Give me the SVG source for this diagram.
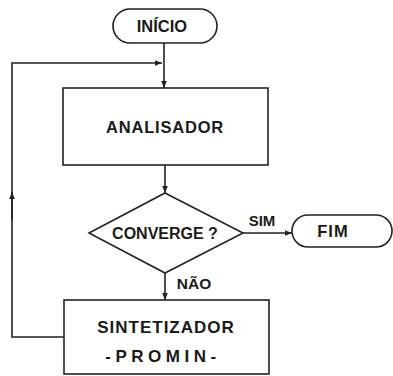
<svg xmlns="http://www.w3.org/2000/svg" width="393" height="376" viewBox="0 0 393 376">
<defs>
<marker id="ah" viewBox="0 0 10 10" refX="10" refY="5" markerWidth="7" markerHeight="7" orient="auto" markerUnits="userSpaceOnUse">
<path d="M0,1 L10,5 L0,9 Z" fill="#222"/>
</marker>
</defs>
<style>
.s{fill:#fff;stroke:#222;stroke-width:1.6}
.c{fill:none;stroke:#222;stroke-width:1.6}
.t{font-family:"Liberation Sans",Arial,sans-serif;font-weight:bold;fill:#1a1a1a;text-anchor:middle}
</style>
<rect width="393" height="376" fill="#fff"/>
<g id="connectors">
<path class="c" d="M164,43 V88" marker-end="url(#ah)"/>
<path class="c" d="M64,337 H12 V63 H162" marker-end="url(#ah)"/>
<path class="c" d="M12,220 V192" marker-end="url(#ah)"/>
<path class="c" d="M165,165 V193" marker-end="url(#ah)"/>
<path class="c" d="M243,233 H292" marker-end="url(#ah)"/>
<path class="c" d="M165,273 V300" marker-end="url(#ah)"/>
<text class="t" x="262" y="226" font-size="15">SIM</text>
<text class="t" x="194" y="289" font-size="15.5">NÃO</text>
</g>
<g id="inicio">
<rect class="s" x="113" y="9" width="104" height="34" rx="17"/>
<text class="t" x="162" y="32" font-size="16.5">INÍCIO</text>
</g>
<g id="analisador">
<rect class="s" x="63" y="88" width="205" height="77"/>
<text class="t" x="165" y="133" font-size="16.5" letter-spacing="0.8">ANALISADOR</text>
</g>
<g id="converge">
<polygon class="s" points="165,193 243,233 165,273 89,233"/>
<text class="t" x="165" y="239" font-size="16">CONVERGE ?</text>
</g>
<g id="fim">
<rect class="s" x="292" y="215" width="100" height="32" rx="16"/>
<text class="t" x="333" y="237" font-size="16.5" letter-spacing="1">FIM</text>
</g>
<g id="sintetizador">
<rect class="s" x="64" y="300" width="205" height="74"/>
<text class="t" x="166" y="333" font-size="17" letter-spacing="1">SINTETIZADOR</text>
<text class="t" x="163" y="362" font-size="17" letter-spacing="4.5">-PROMIN-</text>
</g>
</svg>
